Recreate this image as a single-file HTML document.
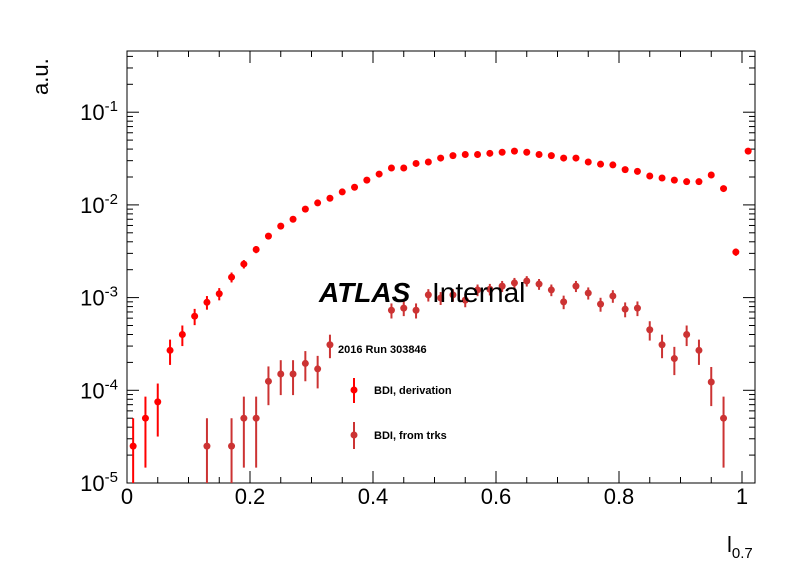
<!DOCTYPE html>
<html><head><meta charset="utf-8"><style>
body{margin:0;background:#fff}
svg{display:block;font-family:"Liberation Sans",Arial,sans-serif}
</style></head><body>
<svg id="c" width="796" height="572" viewBox="0 0 796 572">
<rect x="0" y="0" width="796" height="572" fill="#fff"/>
<g id="axes"></g><g id="marks"></g>
<text x="319" y="302" font-size="28" font-weight="bold" font-style="italic">ATLAS</text>
<text x="432" y="302" font-size="28">Internal</text>
<text x="338" y="353" font-size="11" font-weight="bold">2016 Run 303846</text>
<g>
<g><line x1="354" y1="378" x2="354" y2="403" stroke="#ff0000" stroke-width="2"/><circle cx="354" cy="390" r="3.5" fill="#ff0000"/><text x="374" y="394" font-size="11" font-weight="bold">BDI, derivation</text></g>
<g><line x1="354" y1="422" x2="354" y2="449" stroke="#cc3333" stroke-width="2"/><circle cx="354" cy="435" r="3.5" fill="#cc3333"/><text x="374" y="439" font-size="11" font-weight="bold">BDI, from trks</text></g>
</g>
<text x="727" y="552" font-size="22">l<tspan font-size="15" dy="6">0.7</tspan></text>
<text transform="translate(48,95) rotate(-90)" font-size="22">a.u.</text>
</svg>
<script>
const xCenters=[0.01,0.03,0.05,0.07,0.09,0.11,0.13,0.15,0.17,0.19,0.21,0.23,0.25,0.27,0.29,0.31,0.33,0.35,0.37,0.39,0.41,0.43,0.45,0.47,0.49,0.51,0.53,0.55,0.57,0.59,0.61,0.63,0.65,0.67,0.69,0.71,0.73,0.75,0.77,0.79,0.81,0.83,0.85,0.87,0.89,0.91,0.93,0.95,0.97,0.99,1.01];
const derivation=[2.5e-5,5.0e-5,7.5e-5,2.7e-4,4.0e-4,6.3e-4,8.9e-4,1.1e-3,1.66e-3,2.3e-3,3.3e-3,4.6e-3,5.9e-3,7.0e-3,9.0e-3,1.05e-2,1.18e-2,1.38e-2,1.55e-2,1.85e-2,2.15e-2,2.5e-2,2.5e-2,2.8e-2,2.9e-2,3.2e-2,3.4e-2,3.5e-2,3.5e-2,3.6e-2,3.7e-2,3.8e-2,3.7e-2,3.5e-2,3.4e-2,3.2e-2,3.2e-2,2.9e-2,2.75e-2,2.7e-2,2.4e-2,2.3e-2,2.05e-2,1.95e-2,1.85e-2,1.78e-2,1.78e-2,2.1e-2,1.5e-2,3.1e-3,3.8e-2];
const fromTrks=[0,0,0,0,0,0,2.5e-5,0,2.5e-5,5e-5,5e-5,1.25e-4,1.5e-4,1.5e-4,1.95e-4,1.7e-4,3.1e-4,0,0,0,0,7.3e-4,7.7e-4,7.3e-4,1.07e-3,9.9e-4,1.07e-3,9.4e-4,1.21e-3,1.23e-3,1.33e-3,1.44e-3,1.51e-3,1.4e-3,1.21e-3,9.0e-4,1.33e-3,1.12e-3,8.5e-4,1.04e-3,7.5e-4,7.7e-4,4.5e-4,3.1e-4,2.2e-4,4.0e-4,2.7e-4,1.23e-4,5e-5,0,0];
const unitWeight=2.5e-5;
const xTicks=[0,0.2,0.4,0.6,0.8,1];
const xTickLabels=["0","0.2","0.4","0.6","0.8","1"];
const yDecades=[-5,-4,-3,-2,-1];

const NS="http://www.w3.org/2000/svg";
const L=127,R=755,T=51,B=483;
const X=v=>L+615*v;
const Y=v=>B-92.7*(Math.log10(v)+5);
function mk(tag,attrs,parent){const e=document.createElementNS(NS,tag);for(const k in attrs)e.setAttribute(k,attrs[k]);parent.appendChild(e);return e;}
const ax=document.getElementById('axes'),mg=document.getElementById('marks');
const frame=mk('rect',{x:L,y:T,width:R-L,height:B-T,fill:'none',stroke:'#000','stroke-width':1},ax);


for(let i=0;i<=20;i++){const v=i*0.05;const px=X(v);if(px>R)break;const len=(i%4===0)?12:6;
 mk('line',{x1:px,y1:B,x2:px,y2:B-len,stroke:'#000'},ax);mk('line',{x1:px,y1:T,x2:px,y2:T+len,stroke:'#000'},ax);}
xTicks.forEach((v,i)=>{const t=mk('text',{x:X(v),y:504,'font-size':22,'text-anchor':'middle'},ax);t.textContent=xTickLabels[i];
 
 });
for(const d of yDecades.concat([0])){for(let m=1;m<=9;m++){const v=m*Math.pow(10,d);const py=Y(v);if(py<T||py>B)continue;const len=m===1?12:6;
 mk('line',{x1:L,y1:py,x2:L+len,y2:py,stroke:'#000'},ax);mk('line',{x1:R,y1:py,x2:R-len,y2:py,stroke:'#000'},ax);}}
yDecades.forEach(d=>{const py=Y(Math.pow(10,d));const t=mk('text',{x:118,y:py+8,'font-size':22,'text-anchor':'end'},ax);
 t.innerHTML='10<tspan dy="-9" font-size="15">'+d+'</tspan>';
 
 });
function series(vals,color,name){const g=mk('g',{},mg);
 
 
 vals.forEach((v,i)=>{if(!(v>0))return;const px=X(xCenters[i]);if(px>R+2)return;const e=Math.sqrt(v*unitWeight);
  const lo=v-e>0?Math.min(Y(v-e),B):B;const hi=Math.max(Y(v+e),T);
  const p=mk('g',{},g);
  
  
  mk('line',{x1:px,y1:hi,x2:px,y2:lo,stroke:color,'stroke-width':2},p);
  mk('circle',{cx:px,cy:Y(v),r:3.5,fill:color},p);});}
series(fromTrks,'#cc3333','series-from-trks');
series(derivation,'#ff0000','series-derivation');
</script>
</body></html>
